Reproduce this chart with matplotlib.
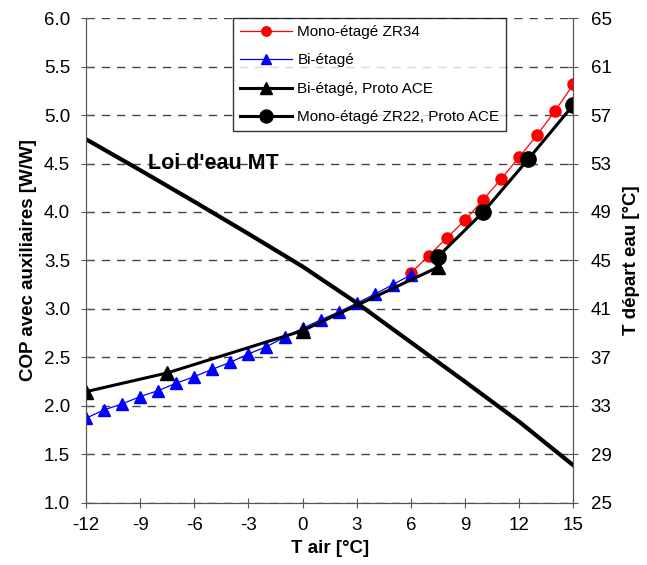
import matplotlib.pyplot as plt
import numpy as np

plt.rcParams['font.family'] = ['Liberation Sans', 'DejaVu Sans']
plt.rcParams['axes.unicode_minus'] = False

# Mono-étagé ZR34
x_zr34 = [6, 7, 8, 9, 10, 11, 12, 13, 14, 15]
cop_zr34 = [3.37, 3.55, 3.735, 3.915, 4.125, 4.34, 4.565, 4.795, 5.045, 5.315]

# Bi-étagé
x_bi = [-12, -11, -10, -9, -8, -7, -6, -5, -4, -3, -2, -1, 0, 1, 2, 3, 4, 5, 6]
cop_bi = [1.873, 1.959, 2.021, 2.096, 2.158, 2.234, 2.302, 2.378, 2.45, 2.536,
          2.611, 2.708, 2.80, 2.887, 2.969, 3.059, 3.152, 3.251, 3.351]

# Bi-étagé, Proto ACE
x_bi_ace = [-12, -7.5, 0, 7.5]
cop_bi_ace = [2.147, 2.34, 2.776, 3.43]

# Mono-étagé ZR22, Proto ACE
x_zr22_ace = [7.5, 10, 12.5, 15]
cop_zr22_ace = [3.539, 3.997, 4.543, 5.103]

# Loi d'eau MT (T départ eau)
x_loi = [-12, -9, -6, -3, 0, 3, 6, 9, 12, 15]
t_loi = [55.0, 52.45, 49.85, 47.2, 44.5, 41.5, 38.25, 35.0, 31.7, 28.1]

fig = plt.figure(figsize=(6.47, 5.65), dpi=100)
ax = fig.add_axes([0.133, 0.110, 0.753, 0.858])
ax2 = ax.twinx()

ax.plot(x_zr34, cop_zr34, color='red', lw=0.9, marker='o', ms=8,
        mec='red', mfc='red', label='Mono-étagé ZR34', zorder=3)
ax.plot(x_bi, cop_bi, color='blue', lw=0.9, marker='^', ms=8,
        mec='blue', mfc='blue', label='Bi-étagé', zorder=3)
ax.plot(x_bi_ace, cop_bi_ace, color='black', lw=2.2, marker='^', ms=10,
        label='Bi-étagé, Proto ACE', zorder=4)
ax.plot(x_zr22_ace, cop_zr22_ace, color='black', lw=2.2, marker='o', ms=11,
        label='Mono-étagé ZR22, Proto ACE', zorder=4)

ax2.plot(x_loi, t_loi, color='black', lw=3)

ax.set_xlim(-12, 15)
ax.set_ylim(1.0, 6.0)
ax2.set_ylim(25, 65)
ax.set_xticks(np.arange(-12, 16, 3))
ax.set_yticks(np.arange(1.0, 6.01, 0.5))
ax.set_yticklabels(['%.1f' % v for v in np.arange(1.0, 6.01, 0.5)])
ax2.set_yticks(np.arange(25, 66, 4))

ax.grid(axis='y', color='#444444', linestyle=(0, (6, 5)), lw=1)
ax.set_axisbelow(True)

for a in (ax, ax2):
    a.spines['top'].set_visible(False)
    for s in ('left', 'right', 'bottom'):
        a.spines[s].set_color('#555555')
    a.tick_params(labelsize=13.5, direction='inout', length=7, color='#555555')
ax.tick_params(axis='x', pad=7)
ax.tick_params(axis='y', pad=8)
ax2.tick_params(axis='y', pad=9)

ax.set_xlabel('T air [°C]', fontsize=13.5, fontweight='bold', labelpad=4)
ax.set_ylabel('COP avec auxiliaires [W/W]', fontsize=13.5, fontweight='bold',
              labelpad=5)
ax2.set_ylabel('T départ eau [°C]', fontsize=13.5, fontweight='bold',
               labelpad=8)

ax.text(-4.95, 4.50, "Loi d'eau MT", fontsize=15.5, fontweight='bold',
        ha='center', va='center', zorder=5)

leg = ax.legend(loc='upper left', bbox_to_anchor=(0.302, 1.0), fontsize=11,
                frameon=True, fancybox=False, edgecolor='black',
                borderaxespad=0, handlelength=3.4, borderpad=0.45,
                labelspacing=0.95, handletextpad=0.35, markerscale=0.85)
leg.get_frame().set_linewidth(1)

fig.savefig('out.png', dpi=100)
